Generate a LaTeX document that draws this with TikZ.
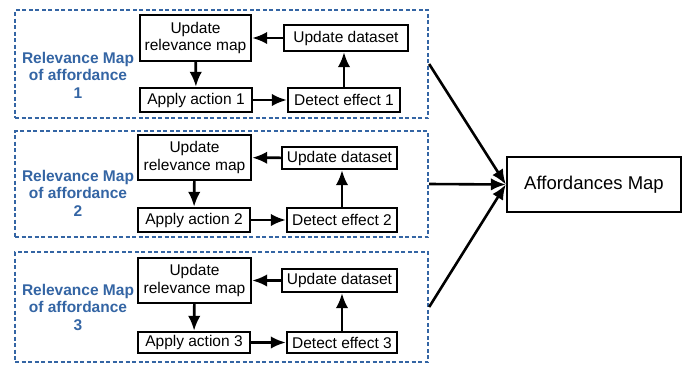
\documentclass[tikz,border=0pt]{standalone}
\usepackage{fontspec}
\setmainfont{Liberation Sans}
\usetikzlibrary{arrows.meta}

\definecolor{mapblue}{RGB}{52,101,164}

\tikzset{
  stage/.style={draw, line width=2.4pt, inner sep=0pt, align=center,
    font=\fontsize{15.5}{17.5}\selectfont},
  group/.style={draw=mapblue, line width=2.3pt, dash pattern=on 4pt off 2.5pt,
    inner sep=0pt},
  grouplabel/.style={text=mapblue, align=center,
    font=\fontsize{15.5}{17.5}\selectfont\bfseries},
  flow/.style={-{Latex[length=15pt,width=12.5pt]}, line width=2.6pt}
}

\begin{document}
\begin{tikzpicture}[x=1pt, y=-1pt]
  \useasboundingbox (0,0) rectangle (685,365);

  % first affordance
  \node[group, minimum width=413pt, minimum height=108pt] (grp1) at (221.5,64) {};
  \node[grouplabel] (lbl1) at (78,75) {Relevance Map\\of affordance\\1};
  \node[stage, minimum width=111pt, minimum height=46pt] (relmap1) at (195.5,38) {Update\\relevance map};
  \node[stage, minimum width=124pt, minimum height=26pt] (data1) at (346,38) {Update dataset};
  \node[stage, minimum width=112pt, minimum height=24pt] (act1) at (196,100) {Apply action 1};
  \node[stage, minimum width=112pt, minimum height=24pt] (det1) at (344,100) {Detect effect 1};
  \draw[flow] (data1) -- (relmap1);
  \draw[flow] (relmap1) -- (act1);
  \draw[flow] (act1) -- (det1);
  \draw[flow] (det1.north) -- (det1.north |- data1.south);

  % second affordance
  \node[group, minimum width=413pt, minimum height=106pt] (grp2) at (221.5,184) {};
  \node[grouplabel] (lbl2) at (78,193) {Relevance Map\\of affordance\\2};
  \node[stage, minimum width=113pt, minimum height=45pt] (relmap2) at (194.5,157.5) {Update\\relevance map};
  \node[stage, minimum width=115pt, minimum height=22pt] (data2) at (339.5,158) {Update dataset};
  \node[stage, minimum width=112pt, minimum height=24pt] (act2) at (194,220) {Apply action 2};
  \node[stage, minimum width=110pt, minimum height=24pt] (det2) at (342,220) {Detect effect 2};
  \draw[flow] (data2) -- (relmap2);
  \draw[flow] (relmap2) -- (act2);
  \draw[flow] (act2) -- (det2);
  \draw[flow] (det2.north) -- (det2.north |- data2.south);

  % third affordance
  \node[group, minimum width=413pt, minimum height=110pt] (grp3) at (221.5,307) {};
  \node[grouplabel] (lbl3) at (78,307) {Relevance Map\\of affordance\\3};
  \node[stage, minimum width=113pt, minimum height=45pt] (relmap3) at (194.5,280.5) {Update\\relevance map};
  \node[stage, minimum width=115pt, minimum height=23pt] (data3) at (339.5,280.5) {Update dataset};
  \node[stage, minimum width=112pt, minimum height=21pt] (act3) at (194,342.5) {Apply action 3};
  \node[stage, minimum width=110pt, minimum height=21pt] (det3) at (342,342.5) {Detect effect 3};
  \draw[flow] (data3) -- (relmap3);
  \draw[flow] (relmap3) -- (act3);
  \draw[flow] (act3) -- (det3);
  \draw[flow] (det3.north) -- (det3.north |- data3.south);

  % merged map
  \node[stage, minimum width=174pt, minimum height=55pt, font=\fontsize{18.5}{20}\selectfont] (amap) at (594,184.5) {Affordances Map};
  \draw[flow] (grp1.east) -- (amap.west);
  \draw[flow] (grp2.east) -- (amap.west);
  \draw[flow] (grp3.east) -- (amap.west);
\end{tikzpicture}
\end{document}
